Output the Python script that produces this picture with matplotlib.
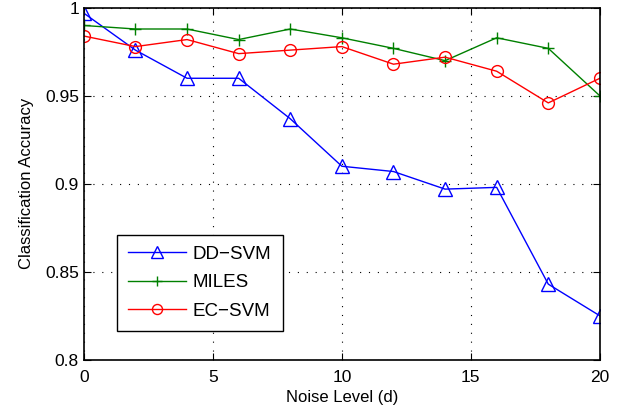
import matplotlib
matplotlib.use('Agg')
import matplotlib.pyplot as plt
import numpy as np

plt.rcParams['font.family'] = ['Liberation Sans', 'DejaVu Sans']

noise = [0, 2, 4, 6, 8, 10, 12, 14, 16, 18, 20]
dd_svm = [0.997, 0.976, 0.960, 0.960, 0.937, 0.910, 0.907, 0.897, 0.898, 0.843, 0.825]
miles = [0.990, 0.988, 0.988, 0.982, 0.988, 0.983, 0.977, 0.970, 0.983, 0.977, 0.950]
ec_svm = [0.984, 0.978, 0.982, 0.974, 0.976, 0.978, 0.968, 0.972, 0.964, 0.946, 0.960]

xticks = [0, 5, 10, 15, 20]
yticks = [0.8, 0.85, 0.9, 0.95, 1.0]
yticklabels = ['0.8', '0.85', '0.9', '0.95', '1']

fig = plt.figure(figsize=(6.21, 4.15), dpi=100)
ax = fig.add_axes([0.135, 0.133, 0.831, 0.848])

ax.plot(noise, dd_svm, color='blue', lw=1, marker='^', ms=9.5, mfc='none', mew=1, label='DD\u2212SVM')
ax.plot(noise, miles, color='green', lw=1, marker='+', ms=9, mew=1, label='MILES')
ax.plot(noise, ec_svm, color='red', lw=1, marker='o', ms=8.5, mfc='none', mew=1, label='EC\u2212SVM')

ax.set_xlim(0, 20)
ax.set_ylim(0.8, 1.0)
ax.set_xticks(xticks)
ax.set_yticks(yticks)
ax.set_yticklabels(yticklabels)
ax.grid(True, linestyle=(0, (1, 7)), color='black', lw=0.8)
ax.tick_params(direction='in', labelsize=12.5, top=True, right=True, length=5)
ax.tick_params(axis='x', pad=7)
for s in ax.spines.values():
    s.set_linewidth(1.2)

ax.set_xlabel('Noise Level (d)', fontsize=12, labelpad=4)
ax.set_ylabel('Classification Accuracy', fontsize=12, labelpad=8)

leg = ax.legend(loc='lower left', bbox_to_anchor=(0.064, 0.082), borderaxespad=0, fontsize=13.5,
                handlelength=3.1, handletextpad=0.35, markerscale=0.85,
                fancybox=False, edgecolor='black', framealpha=1, borderpad=0.6, labelspacing=0.6)
leg.get_frame().set_linewidth(1.0)

fig.savefig('out.png', dpi=100)
